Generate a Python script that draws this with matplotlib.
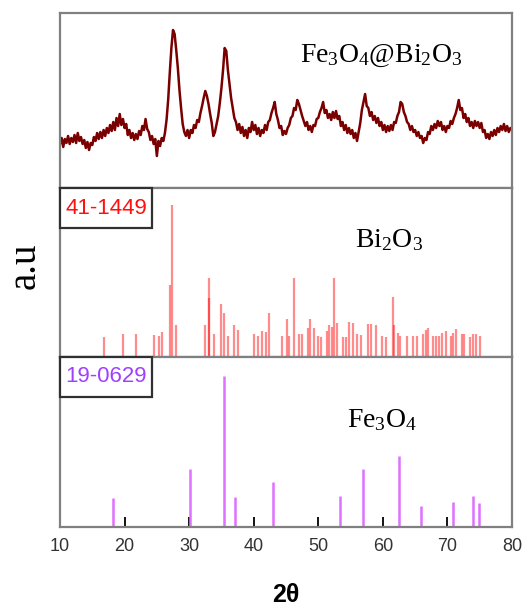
import numpy as np
import matplotlib
matplotlib.use("Agg")
import matplotlib.pyplot as plt
from matplotlib.patches import Rectangle

plt.rcParams["mathtext.fontset"] = "custom"
plt.rcParams["mathtext.rm"] = "Liberation Serif"
plt.rcParams["mathtext.it"] = "Liberation Serif:italic"
plt.rcParams["font.family"] = ["Liberation Sans", "DejaVu Sans"]

# --- measured pattern of Fe3O4@Bi2O3 (2theta 10..80, step 0.25) ---
two_theta_start, two_theta_step = 10.0, 0.25
sample_counts = [
    44, 50, 41, 49, 45, 52, 44, 50, 46, 53, 45, 55, 47, 51, 44, 48, 40, 46, 38, 45,
    43, 51, 47, 55, 49, 56, 50, 58, 52, 60, 55, 63, 57, 66, 58, 70, 62, 74, 63, 69,
    60, 64, 53, 58, 50, 55, 48, 54, 49, 57, 53, 62, 58, 69, 59, 56, 48, 52, 44, 49,
    32, 47, 42, 50, 47, 55, 68, 88, 115, 140, 158, 154, 138, 120, 98, 80, 64, 56, 52, 58,
    50, 58, 55, 63, 60, 68, 66, 75, 82, 90, 97, 92, 84, 74, 65, 52, 56, 64, 72, 85,
    100, 118, 140, 137, 118, 104, 90, 80, 70, 66, 58, 64, 55, 61, 52, 58, 50, 60, 56, 66,
    58, 63, 54, 60, 52, 58, 55, 63, 58, 66, 68, 75, 80, 86, 74, 68, 60, 62, 53, 57,
    54, 60, 63, 70, 72, 80, 78, 88, 84, 78, 72, 67, 62, 66, 58, 62, 56, 63, 62, 69,
    70, 76, 80, 86, 75, 78, 70, 74, 68, 76, 70, 77, 69, 72, 62, 66, 58, 63, 55, 60,
    54, 58, 50, 55, 47, 56, 65, 78, 86, 94, 82, 80, 72, 76, 68, 72, 65, 70, 62, 66,
    58, 63, 56, 62, 57, 63, 58, 66, 65, 72, 76, 86, 84, 76, 72, 66, 64, 58, 62, 56,
    58, 52, 56, 50, 52, 45, 50, 48, 56, 54, 62, 58, 64, 60, 67, 62, 66, 58, 62, 56,
    62, 60, 67, 64, 70, 74, 80, 88, 78, 80, 70, 74, 66, 70, 62, 66, 60, 67, 62, 66,
    60, 65, 56, 58, 50, 54, 49, 56, 52, 58, 53, 60, 56, 62, 58, 64, 57, 62, 56, 60,
    58,
]

# --- JCPDS 41-1449 (Bi2O3) reference lines ---
bi2o3_pos = [16.8, 19.8, 21.8, 24.6, 25.3, 25.8, 27.0, 27.3, 28.0, 32.5,
             33.0, 33.1, 33.9, 35.0, 35.4, 36.0, 37.0, 37.6, 40.0, 40.6,
             41.3, 41.9, 42.3, 44.4, 45.2, 45.5, 46.2, 47.0, 47.5, 48.4,
             48.7, 49.4, 50.0, 50.4, 51.3, 51.7, 52.1, 52.4, 52.9, 53.8,
             54.3, 54.7, 55.4, 56.0, 56.6, 57.7, 58.1, 58.9, 59.9, 60.5,
             61.5, 61.7, 62.3, 62.7, 63.7, 64.6, 65.3, 66.2, 66.7, 67.0,
             67.8, 68.2, 68.7, 69.2, 69.8, 70.5, 70.8, 71.4, 72.2, 72.5,
             73.5, 73.9, 74.5, 75.0]
bi2o3_int = [20, 23, 23, 22, 21, 25, 72, 152, 32, 32,
             79, 59, 23, 53, 44, 21, 32, 27, 23, 21,
             26, 25, 44, 21, 38, 21, 79, 23, 23, 29,
             38, 29, 21, 20, 26, 32, 30, 79, 34, 20,
             20, 35, 34, 23, 22, 33, 33, 32, 21, 20,
             60, 32, 24, 21, 21, 21, 21, 23, 27, 29,
             21, 21, 21, 24, 26, 21, 24, 28, 23, 23,
             20, 23, 23, 21]

# --- JCPDS 19-0629 (Fe3O4) reference lines ---
fe3o4_pos = [18.2, 30.1, 35.4, 37.1, 43.0, 53.4, 56.9, 62.5, 65.9, 70.9, 74.0, 74.9]
fe3o4_int = [29, 58, 151, 30, 45, 31, 58, 71, 21, 25, 31, 24]

x_ticks = [10, 20, 30, 40, 50, 60, 70, 80]

FRAME = "#808080"
TRACE = "#7a0000"

fig = plt.figure(figsize=(5.23, 6.07), dpi=100, facecolor="white")
W, H = 523, 607
left, width = 60 / W, 452 / W
ax1 = fig.add_axes([left, 1 - 188 / H, width, 175 / H])
ax2 = fig.add_axes([left, 1 - 357 / H, width, 169 / H])
ax3 = fig.add_axes([left, 1 - 527 / H, width, 170 / H])

for ax in (ax1, ax2, ax3):
    ax.set_xlim(10, 80)
    for sp in ax.spines.values():
        sp.set_color(FRAME)
        sp.set_linewidth(1.6)
    ax.set_yticks([])
ax1.set_xticks([])
ax2.set_xticks([])

# top: measured pattern
tt = two_theta_start + two_theta_step * np.arange(len(sample_counts))
ax1.plot(tt, sample_counts, color=TRACE, lw=1.8)
ax1.set_ylim(0, 175)
ax1.text(59.7, 132, r"$\mathrm{Fe_3O_4@Bi_2O_3}$", fontsize=20,
         ha="center", va="center", color="black")

# middle: Bi2O3 card
ax2.vlines(bi2o3_pos, 0, bi2o3_int, color="red", alpha=0.45, lw=1.6)
ax2.set_ylim(0, 169)
ax2.text(61.0, 117, r"$\mathrm{Bi_2O_3}$", fontsize=20,
         ha="center", va="center", color="black")

# bottom: Fe3O4 card
ax3.vlines(fe3o4_pos, 0, fe3o4_int, color="#e070ff", lw=1.8)
ax3.set_ylim(0, 170)
ax3.text(59.8, 107, r"$\mathrm{Fe_3O_4}$", fontsize=20,
         ha="center", va="center", color="black")
ax3.set_xticks(x_ticks)
ax3.tick_params(axis="x", direction="in", length=7, width=1.3, color="black",
                pad=8, labelsize=13, labelcolor="#333333")


def card_label(ax, text, color, ax_h):
    bw, bh = 92 / 452, 40 / ax_h
    ax.add_patch(Rectangle((0, 1 - bh), bw, bh, transform=ax.transAxes,
                           facecolor="white", edgecolor="#303030", lw=1.6,
                           zorder=5, clip_on=False))
    ax.text(bw / 2, 1 - bh / 2, text, transform=ax.transAxes, fontsize=16,
            color=color, ha="center", va="center", zorder=6)


card_label(ax2, "41-1449", "#ff1010", 169)
card_label(ax3, "19-0629", "#a040ff", 170)

fig.text(25 / W, 1 - 266 / H, "a.u", rotation=90, fontsize=28,
         family="Liberation Serif", ha="center", va="center")
fig.text(286 / W, 1 - 595 / H, "2θ", fontsize=18, fontweight="bold",
         ha="center", va="center")

fig.savefig("out.png", dpi=100, facecolor="white")
